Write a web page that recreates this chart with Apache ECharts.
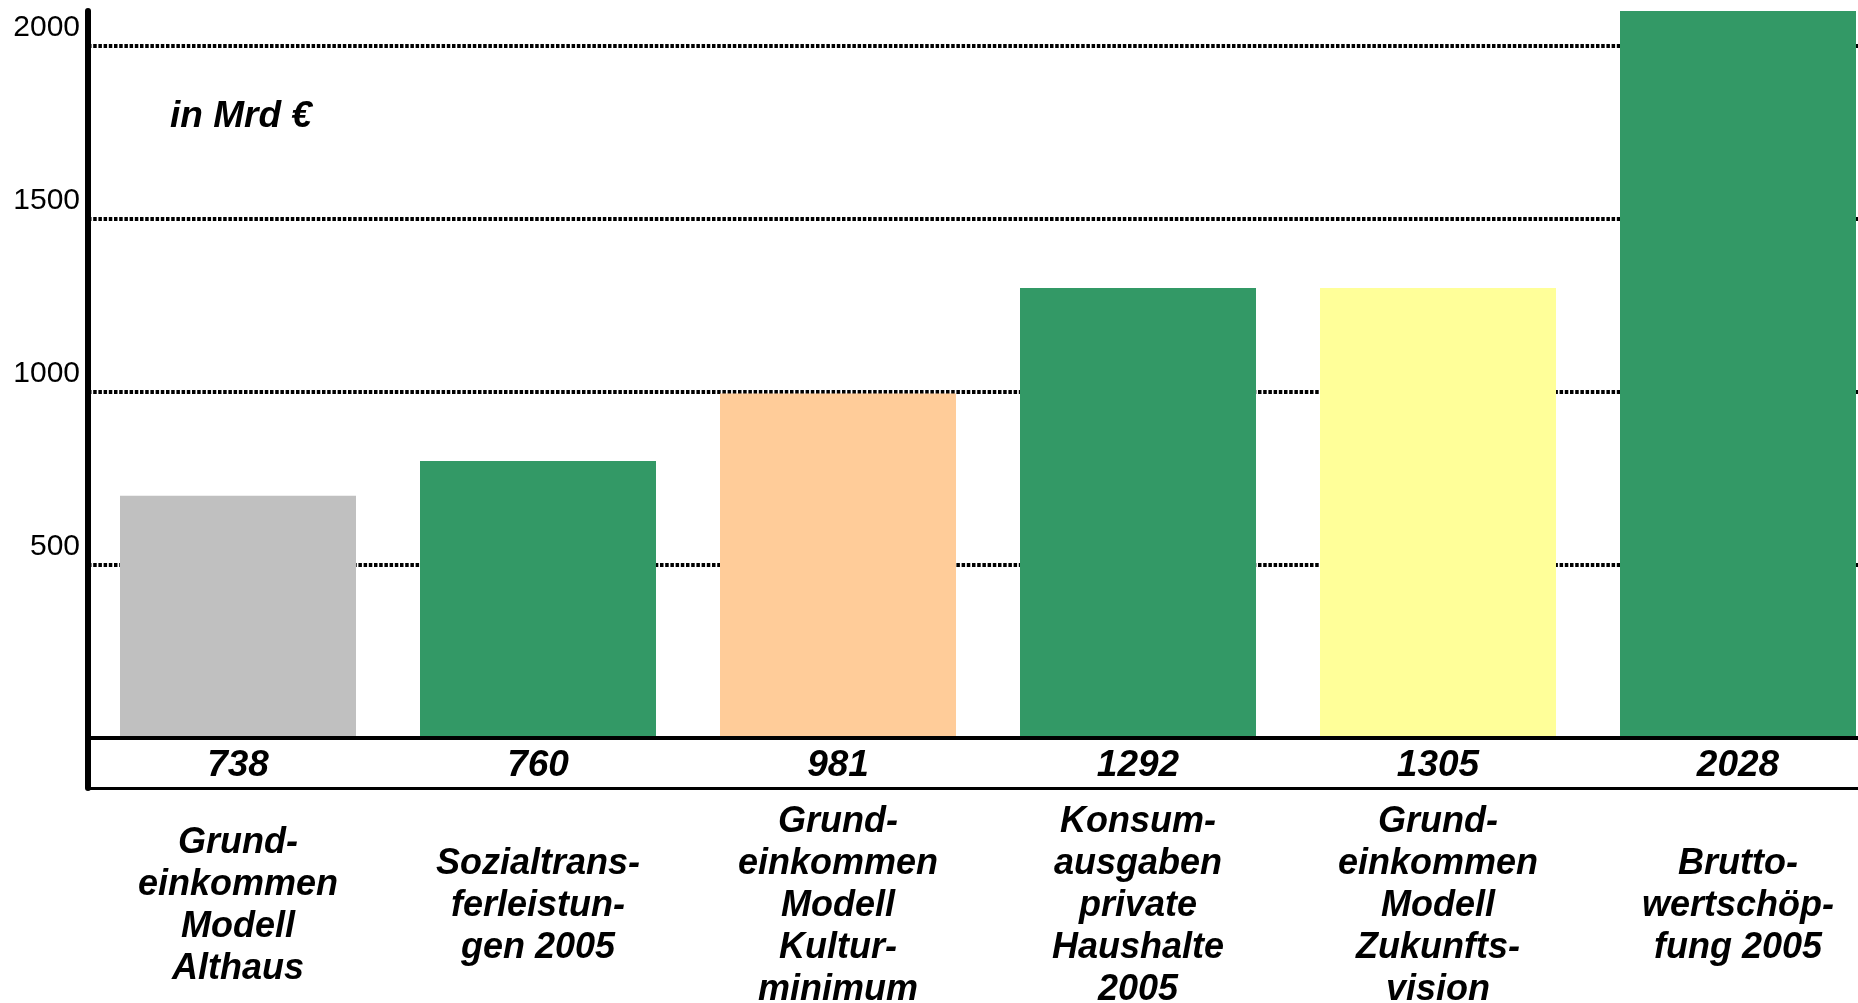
<!DOCTYPE html>
<html>
<head>
<meta charset="utf-8">
<script src="https://cdn.jsdelivr.net/npm/echarts@6/dist/echarts.min.js"></script>
<style>
  html, body { margin: 0; padding: 0; background: #fff; }
  #chart { width: 1858px; height: 1003px; }
</style>
</head>
<body>
<div id="chart"></div>
<script>
// Kategorien (Beschriftung unten)
const categories = [
  'Grund-\neinkommen\nModell\nAlthaus',
  'Sozialtrans-\nferleistun-\ngen 2005',
  'Grund-\neinkommen\nModell\nKultur-\nminimum',
  'Konsum-\nausgaben\nprivate\nHaushalte\n2005',
  'Grund-\neinkommen\nModell\nZukunfts-\nvision',
  'Brutto-\nwertschöp-\nfung 2005'
]
// Zahlen in der Tabellenzeile
const valueLabels = ['738', '760', '981', '1292', '1305', '2028']
// Balkenhöhen wie im Bild gezeichnet
const barValues = [700, 800, 995, 1300, 1300, 2100]
const barColors = ['#c0c0c0', '#339966', '#ffcc99', '#339966', '#ffff99', '#339966']
const yTicks = [500, 1000, 1500, 2000]

const font = '"Liberation Sans", Arial, sans-serif'
const chart = echarts.init(document.getElementById('chart'))

const option = {
  animation: false,
  title: {
    text: 'in Mrd €',
    left: 165,
    top: 93,
    textStyle: {
      fontFamily: font,
      fontSize: 37,
      fontStyle: 'italic',
      fontWeight: 'bold',
      color: '#000'
    }
  },
  grid: [
    { left: 88, top: 11, width: 1800, height: 727, outerBoundsMode: 'none' },
    { left: 88, top: 738, width: 1800, height: 50, outerBoundsMode: 'none' }
  ],
  xAxis: [
    {
      type: 'category',
      gridIndex: 0,
      data: categories,
      z: 5,
      axisLine: { lineStyle: { color: '#000', width: 4 } },
      axisTick: { show: false },
      axisLabel: { show: false }
    },
    {
      type: 'category',
      gridIndex: 1,
      data: valueLabels,
      axisLine: { lineStyle: { color: '#000', width: 3 } },
      axisTick: { show: false },
      axisLabel: {
        inside: true,
        margin: 22,
        verticalAlign: 'middle',
        color: '#000',
        fontFamily: font,
        fontSize: 37,
        fontStyle: 'italic',
        fontWeight: 'bold'
      }
    },
    {
      type: 'category',
      gridIndex: 1,
      position: 'bottom',
      data: categories,
      axisLine: { show: false },
      axisTick: { show: false },
      axisLabel: {
        margin: 118,
        verticalAlign: 'middle',
        interval: 0,
        color: '#000',
        fontFamily: font,
        fontSize: 36,
        lineHeight: 42,
        fontStyle: 'italic',
        fontWeight: 'bold'
      }
    }
  ],
  yAxis: [
    {
      type: 'value',
      gridIndex: 0,
      min: 0,
      max: 2100,
      interval: 500,
      axisLine: { show: true, lineStyle: { color: '#000', width: 6 } },
      axisTick: { show: false },
      axisLabel: {
        margin: 8,
        verticalAlign: 'bottom',
        padding: [0, 0, 3, 0],
        color: '#000',
        fontFamily: font,
        fontSize: 30,
        formatter: v => (yTicks.includes(v) ? String(v) : '')
      },
      splitLine: {
        show: true,
        showMinLine: false,
        showMaxLine: false,
        lineStyle: { color: '#000', width: 4, type: [3.5, 1.7] }
      }
    },
    {
      type: 'value',
      gridIndex: 1,
      min: 0,
      max: 1,
      axisLine: { show: true, lineStyle: { color: '#000', width: 6 } },
      axisTick: { show: false },
      axisLabel: { show: false },
      splitLine: { show: false }
    }
  ],
  series: [
    {
      type: 'bar',
      xAxisIndex: 0,
      yAxisIndex: 0,
      barWidth: 236,
      data: barValues.map((v, i) => ({ value: v, itemStyle: { color: barColors[i] } }))
    }
  ]
}

chart.setOption(option)
</script>
</body>
</html>
